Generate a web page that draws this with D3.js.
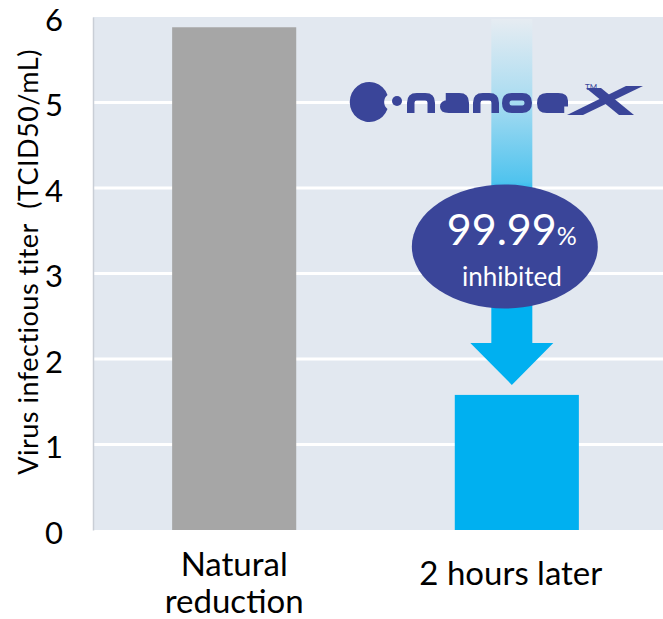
<!DOCTYPE html>
<html>
<head>
<meta charset="utf-8">
<script src="https://cdn.jsdelivr.net/npm/d3@7"></script>
<style>
body { margin:0; background:#fff; }
svg { display:block; font-family: Lato, "Open Sans", sans-serif; }
</style>
</head>
<body>
<svg id="graph"></svg>
<script>
// values
var categories = ["Natural reduction", "2 hours later"];
var categoryLines = [["Natural", "reduction"], ["2 hours later"]];
var titers = [5.88, 1.58];
var yTicks = [0, 1, 2, 3, 4, 5, 6];
var yTitle = "Virus infectious titer\u00a0\u00a0(TCID50/mL)";
var badgeValue = "99.99";
var badgeUnit = "%";
var badgeNote = "inhibited";
var barColors = ["#a6a6a6", "#00b0f0"];

var navy = "#3a4599";

var initGraph = function(target)
{
    var screen = {width:663, height:619};
    var margins = {top:17, bottom:89, left:93, right:0};
    var graph = {
        width:screen.width-margins.left-margins.right,
        height:screen.height-margins.top-margins.bottom
    };

    var svg = d3.select(target)
        .attr("width", screen.width)
        .attr("height", screen.height);

    var yScale = d3.scaleLinear()
        .domain([0, 6])
        .range([margins.top+graph.height, margins.top]);

    var xScale = d3.scaleBand()
        .domain(categories)
        .range([margins.left, screen.width-5])
        .paddingInner(0.561)
        .paddingOuter(0.28);

    // plot background
    svg.append("rect")
        .attr("x", margins.left)
        .attr("y", margins.top)
        .attr("width", graph.width)
        .attr("height", graph.height)
        .attr("fill", "#e2e8f0");

    // white gridlines
    svg.append("g")
        .selectAll("line")
        .data(yTicks.filter(function(t){ return t > 0 && t < 6; }))
        .enter()
        .append("line")
        .attr("x1", margins.left)
        .attr("x2", screen.width)
        .attr("y1", function(t){ return yScale(t); })
        .attr("y2", function(t){ return yScale(t); })
        .attr("stroke", "#fff")
        .attr("stroke-width", 3);

    // y axis
    var yAxis = d3.axisLeft(yScale)
        .tickValues(yTicks)
        .tickFormat(d3.format("d"))
        .tickSize(0)
        .tickPadding(30);
    var ya = svg.append("g")
        .attr("transform", "translate("+margins.left+",0)")
        .call(yAxis);
    ya.select(".domain")
        .attr("stroke", "#c9ced6")
        .attr("stroke-width", 1.5);
    ya.selectAll("text")
        .attr("fill", "#000")
        .attr("dy", "0.42em")
        .style("font-family", "Lato")
        .style("font-size", "31px");

    svg.append("text")
        .attr("transform", "translate(38,262) rotate(-90)")
        .attr("text-anchor", "middle")
        .style("font-size", "27px")
        .style("letter-spacing", "0.5px")
        .attr("fill", "#000")
        .text(yTitle);

    drawArrow(svg, xScale, yScale);

    // bars
    svg.append("g")
        .selectAll("rect")
        .data(titers)
        .enter()
        .append("rect")
        .attr("x", function(d, i){ return xScale(categories[i]); })
        .attr("y", function(d){ return yScale(d); })
        .attr("width", xScale.bandwidth())
        .attr("height", function(d){ return yScale(0)-yScale(d); })
        .attr("fill", function(d, i){ return barColors[i]; });

    // category labels
    var labels = svg.append("g")
        .selectAll("text")
        .data(categoryLines)
        .enter()
        .append("text")
        .attr("text-anchor", "middle")
        .attr("fill", "#000")
        .style("font-size", "33px")
        .attr("x", function(d, i){ return xScale(categories[i])+xScale.bandwidth()/2 - (i==1 ? 6 : 0); })
        .attr("y", function(d){ return d.length > 1 ? 576 : 585; });
    labels.selectAll("tspan")
        .data(function(d){ return d; })
        .enter()
        .append("tspan")
        .attr("x", function(){ return d3.select(this.parentNode).attr("x"); })
        .attr("dy", function(d, j){ return j == 0 ? 0 : 37; })
        .text(function(d){ return d; });

    drawLogo(svg);
};

var drawArrow = function(svg, xScale, yScale)
{
    var cx = xScale(categories[1]) + xScale.bandwidth()/2 - 5;
    var shaftHalf = 20.5;
    var headHalf = 41.5;
    var top = yScale(6) + 2;
    var tip = yScale(titers[1]) - 10;
    var headBase = tip - 42;

    var grad = svg.append("defs")
        .append("linearGradient")
        .attr("id", "shaftFade")
        .attr("gradientUnits", "userSpaceOnUse")
        .attr("x1", 0).attr("x2", 0)
        .attr("y1", top).attr("y2", 200);
    grad.append("stop").attr("offset", 0).attr("stop-color", "#e6ecf2");
    grad.append("stop").attr("offset", 0.45).attr("stop-color", "#a9dcf1");
    grad.append("stop").attr("offset", 0.9).attr("stop-color", "#4fc3ee");
    grad.append("stop").attr("offset", 1).attr("stop-color", "#00b0f0");

    svg.append("path")
        .attr("d", "M"+(cx-shaftHalf)+","+top+
            " H"+(cx+shaftHalf)+
            " V"+headBase+
            " H"+(cx+headHalf)+
            " L"+cx+","+tip+
            " L"+(cx-headHalf)+","+headBase+
            " H"+(cx-shaftHalf)+" Z")
        .attr("fill", "url(#shaftFade)");

    // badge
    svg.append("ellipse")
        .attr("cx", cx - 7)
        .attr("cy", 246.5)
        .attr("rx", 93)
        .attr("ry", 62)
        .attr("fill", navy);

    var t = svg.append("text")
        .attr("x", cx)
        .attr("y", 245)
        .attr("text-anchor", "middle")
        .attr("fill", "#fff");
    t.append("tspan")
        .style("font-size", "43px")
        .text(badgeValue);
    t.append("tspan")
        .style("font-size", "25px")
        .text(badgeUnit);

    svg.append("text")
        .attr("x", cx)
        .attr("y", 286)
        .attr("text-anchor", "middle")
        .attr("fill", "#fff")
        .style("font-size", "26px")
        .text(badgeNote);
};

var drawLogo = function(svg)
{
    var logo = svg.append("g").attr("fill", navy);

    // blob with bite and dot
    logo.append("path")
        .attr("d", "M387.5,95 A19.5,20 0 1 0 387.5,109 A9,9 0 0 1 387.5,95 Z");
    logo.append("circle")
        .attr("cx", 397).attr("cy", 101).attr("r", 5);

    var s = 7.5, h = s/2, top = 93 + h, bot = 113 - h;
    var letter = function(kind, l, r)
    {
        var L = l+h, R = r-h, rr = 6;
        if (kind == "n")
            return "M"+L+",113 V"+(top+rr)+" Q"+L+","+top+" "+(L+rr)+","+top+
                " H"+(R-rr)+" Q"+R+","+top+" "+R+","+(top+rr)+" V113";
        if (kind == "a")
            return "M"+(L+2)+","+top+" H"+(R-rr)+" Q"+R+","+top+" "+R+","+(top+rr)+" V113"+
                " M"+R+","+(top+7)+" H"+(L+5)+" Q"+L+","+(top+7)+" "+L+","+(top+10)+
                " Q"+L+","+bot+" "+(L+5)+","+bot+" H"+R;
        if (kind == "o")
            return "M"+(L+rr)+","+top+" H"+(R-rr)+" Q"+R+","+top+" "+R+","+(top+rr)+
                " Q"+R+","+bot+" "+(R-rr)+","+bot+" H"+(L+rr)+" Q"+L+","+bot+" "+L+","+(bot-rr)+
                " Q"+L+","+top+" "+(L+rr)+","+top+" Z";
        // e
        return "M"+R+","+bot+" H"+(L+rr)+" Q"+L+","+bot+" "+L+","+(bot-rr)+
            " Q"+L+","+top+" "+(L+rr)+","+top+" H"+(R-rr)+" Q"+R+","+top+" "+R+","+(top+4)+
            " V"+(top+6)+" H"+L;
    };
    var letters = [["n",407,435],["a",440,469],["n",473,499],["o",502,532],["e",537,568]];
    logo.selectAll("path.ltr")
        .data(letters)
        .enter()
        .append("path")
        .attr("class", "ltr")
        .attr("d", function(d){ return letter(d[0], d[1], d[2]); })
        .attr("fill", "none")
        .attr("stroke", navy)
        .attr("stroke-width", s);

    // slanted X
    logo.append("path")
        .attr("d", "M567,115 L583,115 L643,86 L626,86 Z");
    logo.append("path")
        .attr("d", "M586,88 L601,88 L634,115 L619,115 Z");
    logo.append("text")
        .attr("x", 585).attr("y", 90)
        .style("font-size", "8px")
        .text("TM");
};

initGraph("#graph");
</script>
</body>
</html>
